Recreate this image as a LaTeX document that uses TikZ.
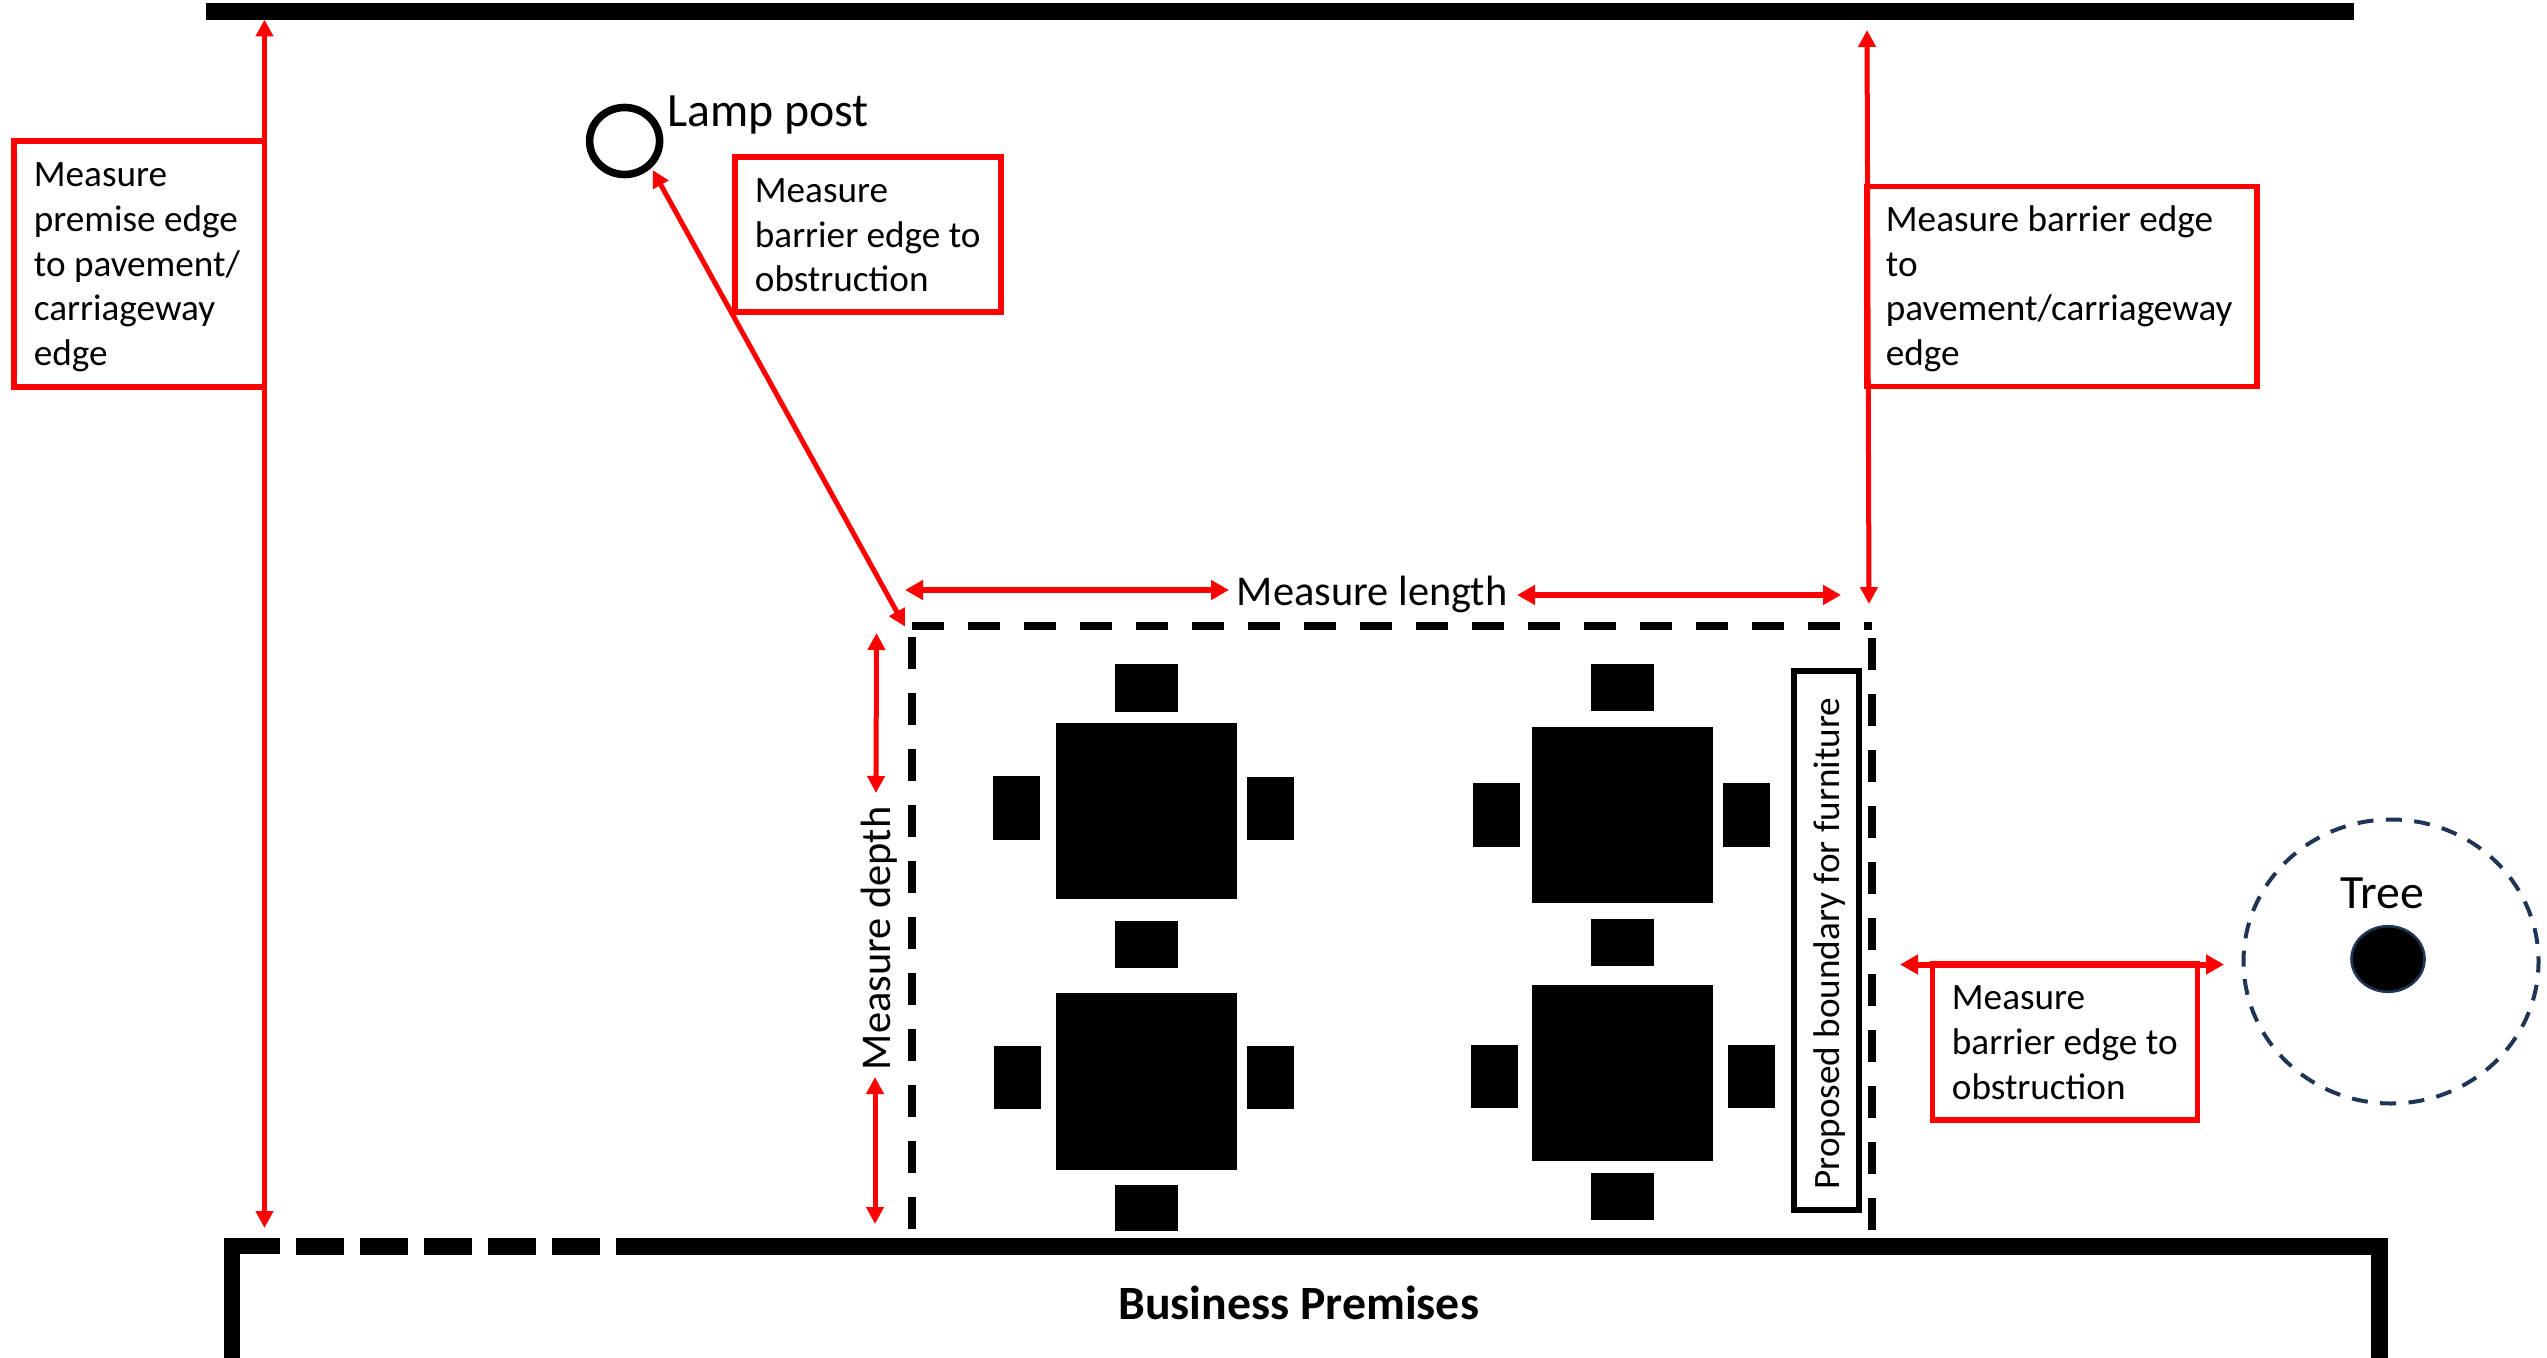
\documentclass[tikz,border=0pt]{standalone}
\usepackage{fontspec}
\setmainfont{Carlito}
\usetikzlibrary{arrows.meta}
\definecolor{treeblue}{HTML}{1F3556}
\newcommand{\firstline}{\rule{0pt}{15pt}}
\newcommand{\blk}[4]{\fill[black] (#1,#2) rectangle (#3,#4);}
\tikzset{
  redbox/.style={draw=red,line width=2.8pt,rectangle,inner sep=0pt},
  boxtext/.style={anchor=north west,inner sep=0pt,align=left,font=\fontsize{18.6}{22.35}\selectfont},
  bigtext/.style={anchor=base west,inner sep=0pt,font=\fontsize{23.9}{28}\selectfont},
  midtext/.style={anchor=base west,inner sep=0pt,font=\fontsize{21.2}{25}\selectfont},
  dimline/.style={red,line width=2.5pt,{Triangle[length=8.5pt,width=8.5pt]}-{Triangle[length=8.5pt,width=8.5pt]}},
  dimthick/.style={red,line width=3pt,{Triangle[length=9pt,width=9.5pt]}-{Triangle[length=9pt,width=9.5pt]}},
  edgeblack/.style={black,line width=4pt},
  dashedge/.style={black,line width=4pt,dash pattern=on 16pt off 12pt},
}
\begin{document}
\begin{tikzpicture}[x=0.5pt,y=-0.5pt]
\useasboundingbox (0,0) rectangle (2547,1358);
% named end points
\coordinate (barL) at (264.5,19.5);
\coordinate (premL) at (264.5,1228);
\coordinate (barR) at (1867,30);
\coordinate (boundTR) at (1869,604);
\coordinate (lampEnd) at (652.6,170);
\coordinate (boundTL) at (905,626.6);
\coordinate (lenA) at (905,590);
\coordinate (lenB) at (1229,590);
\coordinate (lenC) at (1517,595);
\coordinate (lenD) at (1841,595);
\coordinate (depA) at (876.5,633);
\coordinate (depB) at (876,793);
\coordinate (depC) at (875,1077);
\coordinate (depD) at (875,1224);
\coordinate (obsA) at (1900,964.5);
\coordinate (obsB) at (2224,964.5);
% pavement edge
\fill[black] (205.6,3) rectangle (2354,20);
% building
\draw[edgeblack,line width=8.5pt] (616,1246) -- (2379.5,1246) -- (2379.5,1358);
\draw[edgeblack,line width=8pt] (231.5,1358) -- (231.5,1246) -- (280,1246);
\draw[black,line width=8.5pt,dash pattern=on 24pt off 8pt] (296,1246) -- (616,1246);
\node[anchor=base west,inner sep=0pt,font=\bfseries\fontsize{23.9}{28}\selectfont] (prem) at (1118,1319.5) {Business Premises};
% proposed boundary
\draw[dashedge] (912,626) -- (1871.5,626);
\draw[dashedge] (912,637) -- (912,1229);
\draw[dashedge] (1872,638) -- (1872,1230);
% tables, left column
\blk{1056}{723}{1237}{899}
\blk{1056}{993}{1237}{1169.5}
\blk{1115}{664}{1178}{711.5}
\blk{1115}{921}{1178}{968}
\blk{1115}{1184.5}{1178}{1231}
\blk{993}{776}{1040}{840}
\blk{994}{1046}{1041}{1109}
\blk{1247}{777}{1294}{840}
\blk{1247}{1046}{1294}{1109}
% tables, right column
\blk{1532}{727}{1713}{903}
\blk{1532}{985}{1713}{1161}
\blk{1591}{663.5}{1654}{711}
\blk{1591}{919}{1654}{966}
\blk{1591}{1173}{1654}{1220}
\blk{1473}{783}{1520}{846.5}
\blk{1471}{1045}{1518}{1108}
\blk{1723}{783}{1770}{846.5}
\blk{1728}{1045}{1775}{1108}
% boundary label
\draw[black,line width=2.8pt] (1794,671) rectangle (1859,1210);
\node[anchor=base west,inner sep=0pt,rotate=90,font=\fontsize{18.6}{22}\selectfont] (boundlabel) at (1839,1190) {Proposed boundary for furniture};
\node[midtext,rotate=90] (depth) at (890,1070.5) {Measure depth};
% lamp post
\draw[black,line width=3.8pt] (624.6,141) ellipse [x radius=35,y radius=33.5];
\node[bigtext] (lamplabel) at (667,127) {Lamp post};
% tree
\draw[treeblue,line width=2pt,dash pattern=on 8pt off 6.21pt,dash phase=2.5pt] (2391,961.5) ellipse [x radius=147.5,y radius=142];
\fill[black,draw=treeblue,line width=1.3pt] (2388,959) ellipse [x radius=36.5,y radius=32.8];
\node[bigtext] (treelabel) at (2340,908) {Tree};
% red boxes
\node[redbox,minimum width=125.25pt,minimum height=123pt] (b1) at (139.25,264) {};
\node[boxtext] (t1) at (33.5,156.5) {\firstline Measure\\premise edge\\to pavement/\\carriageway\\edge};
\node[redbox,minimum width=133pt,minimum height=77.5pt] (b2) at (868,234.5) {};
\node[boxtext] (t2) at (754.5,172) {\firstline Measure\\barrier edge to\\obstruction};
\node[redbox,minimum width=195pt,minimum height=100pt] (b3) at (2062,286.5) {};
\node[boxtext] (t3) at (1885.5,201) {\firstline Measure barrier edge\\to\\pavement/carriageway\\edge};
\node[redbox,minimum width=132.5pt,minimum height=78pt] (b4) at (2065,1042) {};
\node[boxtext] (t4) at (1951.5,979.5) {\firstline Measure\\barrier edge to\\obstruction};
\node[midtext] (lenlabel) at (1236.5,605.5) {Measure length};
% dimension arrows
\draw[dimline] (barL) -- (premL);
\draw[dimline] (barR) -- (boundTR);
\draw[dimline] (lampEnd) -- (boundTL);
\draw[dimthick] (lenA) -- (lenB);
\draw[dimthick] (lenC) -- (lenD);
\draw[dimline] (depA) -- (depB);
\draw[dimline] (depC) -- (depD);
\draw[dimthick] (obsA) -- (obsB);
\end{tikzpicture}
\end{document}
